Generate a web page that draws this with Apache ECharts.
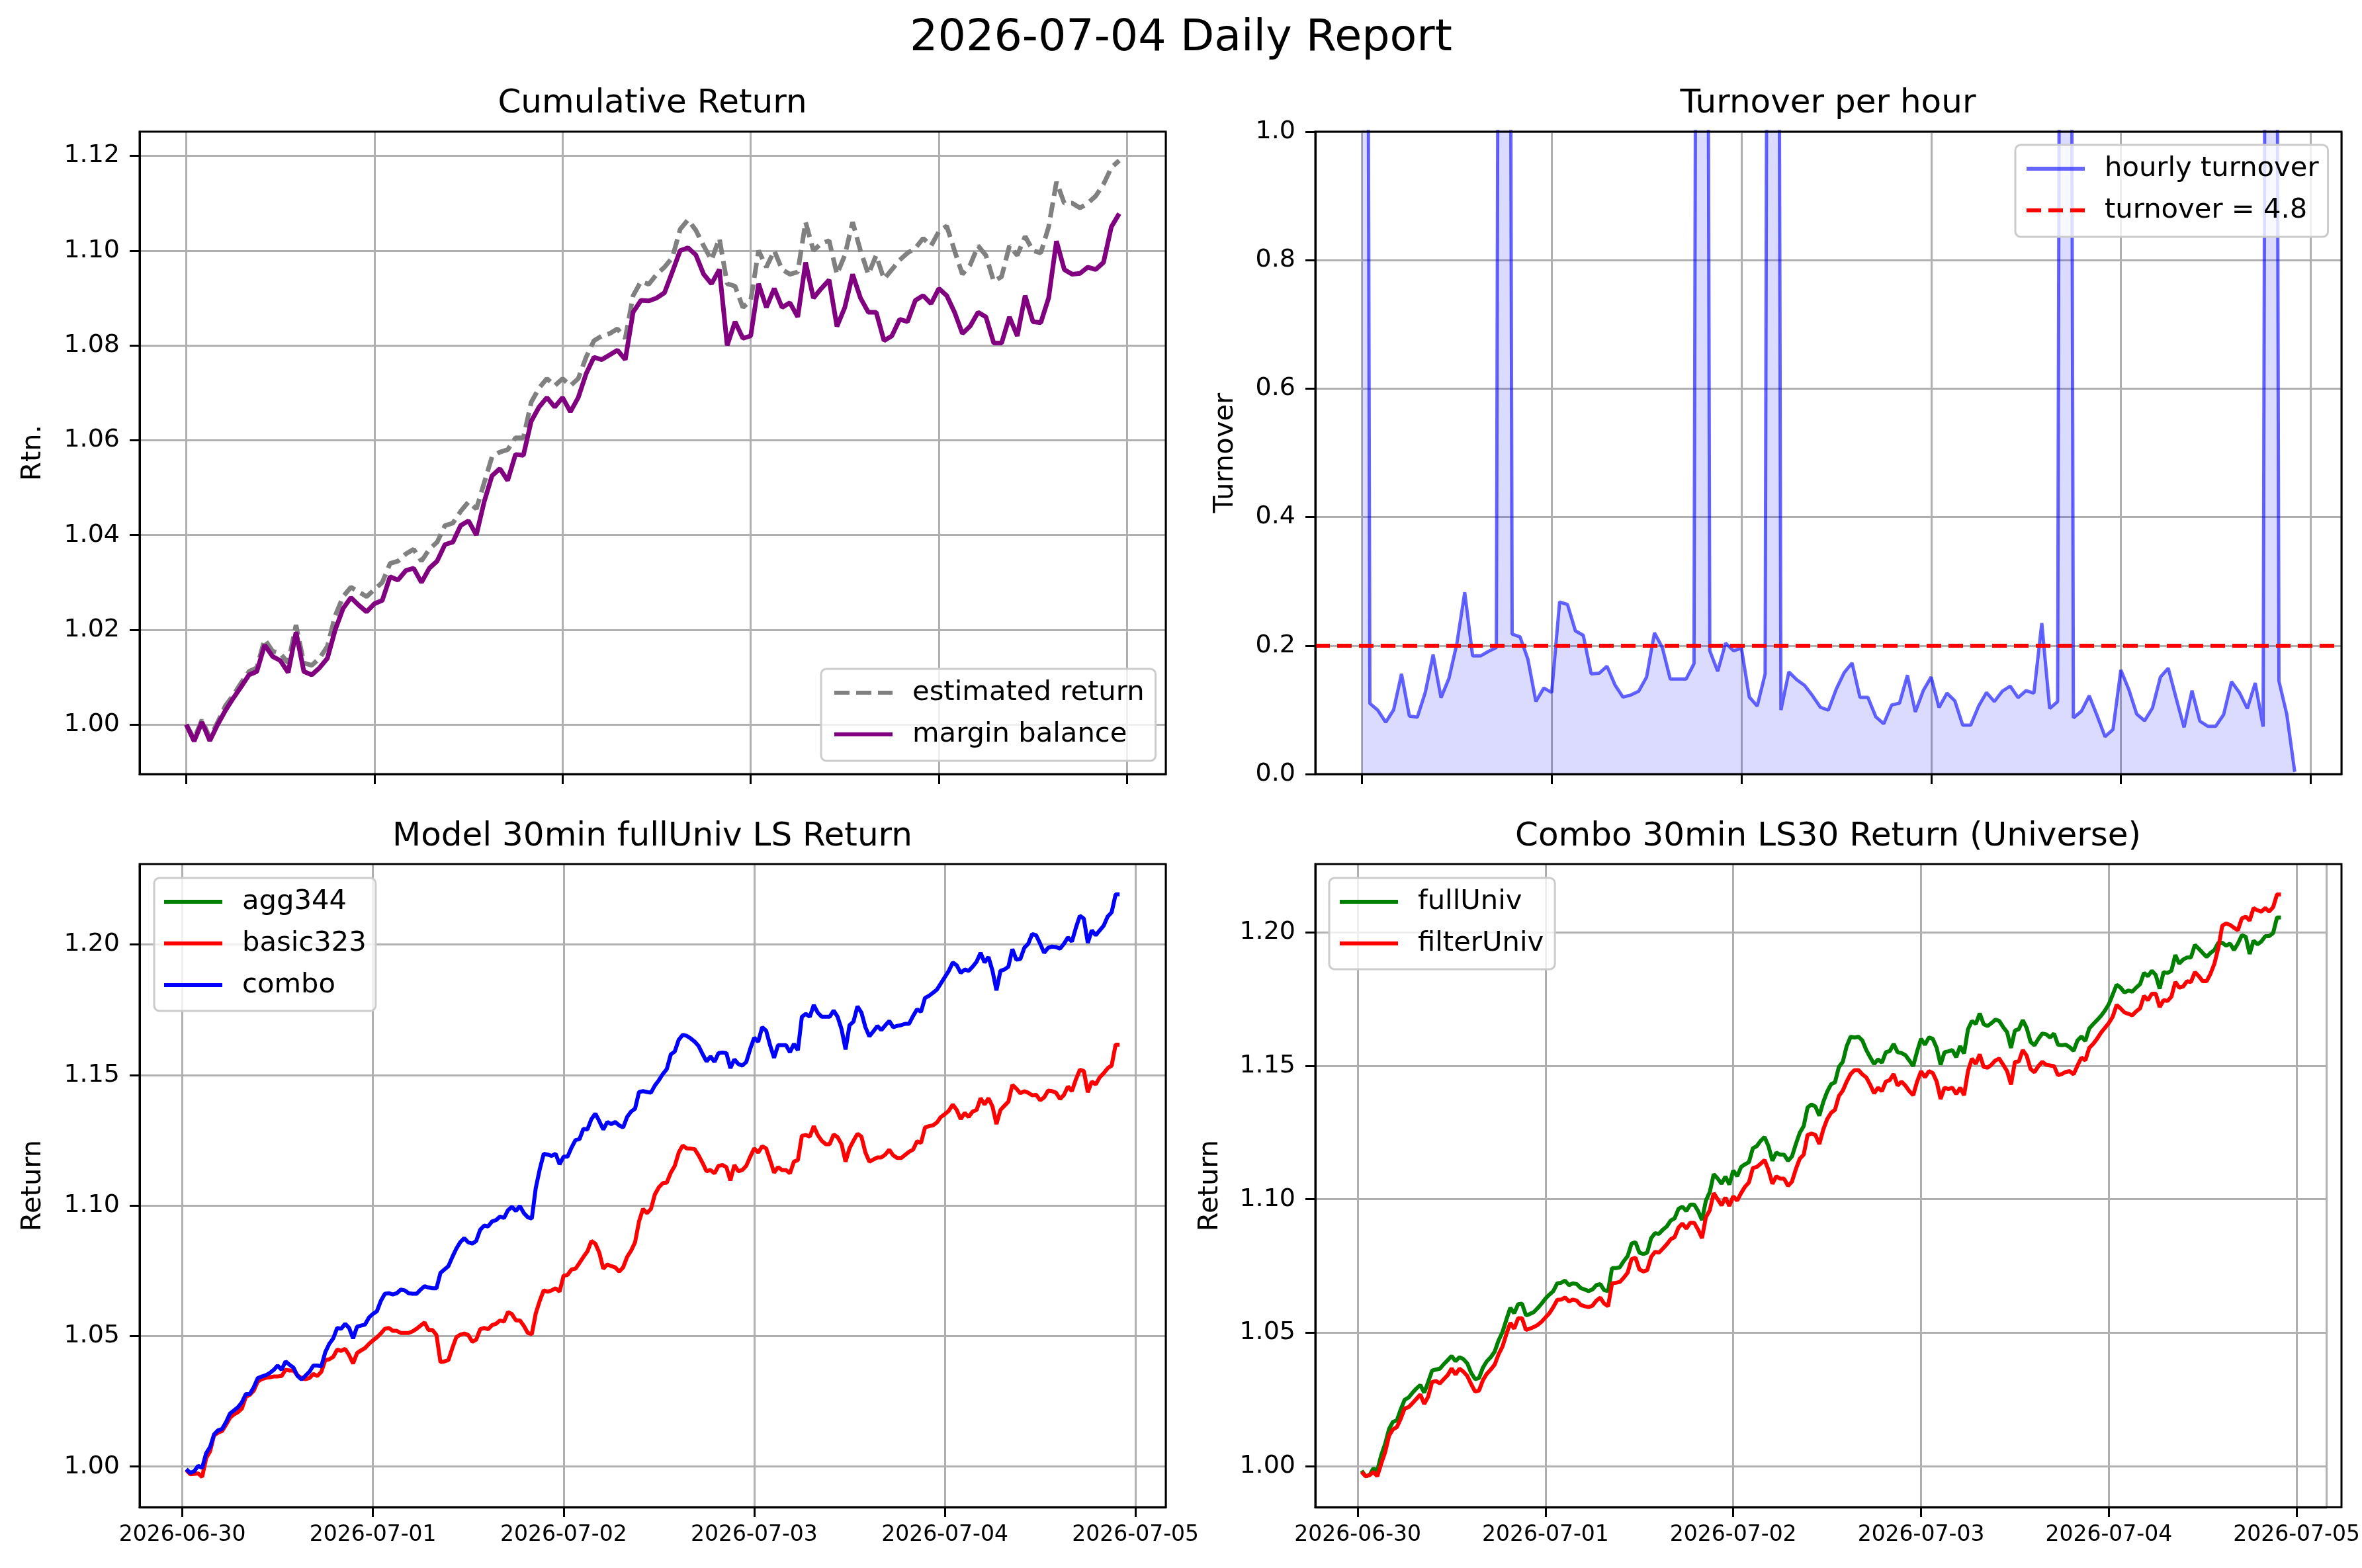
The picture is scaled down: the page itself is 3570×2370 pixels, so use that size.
<!DOCTYPE html>
<html>
<head>
    <meta charset="UTF-8">
    <title>2026-07-04 Daily Report</title>
    <script src="https://cdn.jsdelivr.net/npm/echarts@6/dist/echarts.min.js"></script>
    <style>
        * { padding: 0; margin: 0; }
        html, body { width: 3570px; height: 2370px; background: #fff; overflow: hidden; }
        #report { width: 3570px; height: 2370px; }
    </style>
</head>
<body>
    <div id="report"></div>
</body>
<script>
    var HOUR = 3600 * 1000;
    var DAY = 24 * HOUR;
    var T0 = Date.UTC(2026, 5, 30);   // 2026-06-30 00:00

    // tick values
    var dayTicks = ['2026-06-30', '2026-07-01', '2026-07-02', '2026-07-03', '2026-07-04', '2026-07-05'];
    var retTicks = [1.00, 1.02, 1.04, 1.06, 1.08, 1.10, 1.12];
    var turnTicks = [0.0, 0.2, 0.4, 0.6, 0.8, 1.0];
    var lsTicks = [1.00, 1.05, 1.10, 1.15, 1.20];

    // cumulative return, hourly from 06-30 00:00
    var estReturn = [
        1.0000, 0.9970, 1.0010, 0.9972, 1.0005, 1.0040, 1.0062, 1.0088, 1.0112, 1.0120,
        1.0180, 1.0155, 1.0150, 1.0130, 1.0210, 1.0130, 1.0125, 1.0140, 1.0165, 1.0230,
        1.0270, 1.0290, 1.0280, 1.0270, 1.0285, 1.0300, 1.0340, 1.0345, 1.0360, 1.0370,
        1.0345, 1.0370, 1.0385, 1.0420, 1.0425, 1.0450, 1.0470, 1.0455, 1.0510, 1.0565,
        1.0575, 1.0580, 1.0605, 1.0605, 1.0680, 1.0710, 1.0730, 1.0715, 1.0730, 1.0715,
        1.0730, 1.0775, 1.0810, 1.0820, 1.0825, 1.0835, 1.0815, 1.0905, 1.0935, 1.0929,
        1.0950, 1.0965, 1.0985, 1.1045, 1.1065, 1.1043, 1.1010, 1.0980, 1.1026, 1.0930,
        1.0925, 1.0880, 1.0895, 1.1000, 1.0965, 1.1000, 1.0960, 1.0950, 1.0955, 1.1060,
        1.1000, 1.1015, 1.1021, 1.0950, 1.0990, 1.1060, 1.1000, 1.0950, 1.0990, 1.0940,
        1.0960, 1.0980, 1.0995, 1.1005, 1.1026, 1.1010, 1.1040, 1.1052, 1.1000, 1.0950,
        1.0970, 1.1010, 1.0990, 1.0935, 1.0945, 1.1010, 1.0990, 1.1030, 1.1000, 1.0995,
        1.1050, 1.1145, 1.1100, 1.1100, 1.1090, 1.1100, 1.1115, 1.1140, 1.1175, 1.1190
    ];
    var marginBal = [
        1.0000, 0.9965, 1.0005, 0.9966, 1.0000, 1.0030, 1.0056, 1.0080, 1.0105, 1.0112,
        1.0168, 1.0144, 1.0135, 1.0110, 1.0195, 1.0112, 1.0105, 1.0120, 1.0140, 1.0200,
        1.0245, 1.0268, 1.0252, 1.0238, 1.0255, 1.0262, 1.0312, 1.0305, 1.0325, 1.0330,
        1.0300, 1.0330, 1.0345, 1.0380, 1.0385, 1.0420, 1.0430, 1.0400, 1.0470, 1.0525,
        1.0540, 1.0515, 1.0570, 1.0568, 1.0640, 1.0670, 1.0690, 1.0670, 1.0690, 1.0660,
        1.0690, 1.0740, 1.0775, 1.0770, 1.0780, 1.0790, 1.0770, 1.0870, 1.0895, 1.0894,
        1.0900, 1.0911, 1.0955, 1.1000, 1.1006, 1.0991, 1.0950, 1.0930, 1.0960, 1.0800,
        1.0850, 1.0815, 1.0820, 1.0930, 1.0880, 1.0920, 1.0880, 1.0890, 1.0860, 1.0975,
        1.0900, 1.0920, 1.0938, 1.0840, 1.0880, 1.0950, 1.0900, 1.0870, 1.0870, 1.0810,
        1.0820, 1.0855, 1.0850, 1.0895, 1.0905, 1.0888, 1.0920, 1.0905, 1.0870, 1.0825,
        1.0841, 1.0870, 1.0860, 1.0805, 1.0805, 1.0860, 1.0820, 1.0905, 1.0850, 1.0848,
        1.0900, 1.1020, 1.0960, 1.0950, 1.0952, 1.0965, 1.0960, 1.0975, 1.1050, 1.1078
    ];

    // hourly turnover from 06-30 00:00 (the spikes run far past the top of the axis)
    var turnover = [
        5.0, 0.110, 0.0996, 0.0807, 0.100, 0.156, 0.0903, 0.0886, 0.127, 0.186,
        0.119, 0.149, 0.203, 0.283, 0.184, 0.184, 0.191, 0.197, 5.0, 0.218,
        0.2135, 0.1785, 0.113, 0.134, 0.127, 0.268, 0.264, 0.223, 0.216, 0.156,
        0.157, 0.168, 0.139, 0.120, 0.123, 0.129, 0.151, 0.220, 0.197, 0.148,
        0.148, 0.148, 0.172, 5.0, 0.192, 0.160, 0.204, 0.192, 0.196, 0.120,
        0.106, 0.156, 5.0, 0.0996, 0.159, 0.147, 0.138, 0.122, 0.104, 0.0996,
        0.1325, 0.158, 0.173, 0.1195, 0.1195, 0.0893, 0.0783, 0.1075, 0.1105, 0.154,
        0.0968, 0.130, 0.151, 0.1037, 0.126, 0.114, 0.0762, 0.0762, 0.1057, 0.127,
        0.113, 0.129, 0.137, 0.119, 0.130, 0.126, 0.235, 0.102, 0.113, 5.0,
        0.0875, 0.0978, 0.122, 0.091, 0.0584, 0.0693, 0.162, 0.132, 0.0937, 0.083,
        0.103, 0.151, 0.165, 0.118, 0.0728, 0.130, 0.0824, 0.0745, 0.0745, 0.0927,
        0.144, 0.127, 0.102, 0.142, 0.0738, 5.0, 0.145, 0.0927, 0.0034
    ];
    var turnoverLevel = 0.2;

    // 30min LS returns from 06-30 00:30
    var agg344 = [];
    var basic323 = [
        0.9987, 0.9971, 0.9972, 0.9974, 0.9960, 1.0032, 1.0059, 1.0120, 1.0130, 1.0136,
        1.0160, 1.0187, 1.0200, 1.0208, 1.0222, 1.0267, 1.0275, 1.0291, 1.0326, 1.0335,
        1.0340, 1.0342, 1.0345, 1.0345, 1.0347, 1.0371, 1.0368, 1.0368, 1.0350, 1.0339,
        1.0335, 1.0339, 1.0355, 1.0347, 1.0363, 1.0408, 1.0411, 1.0420, 1.0448, 1.0443,
        1.0451, 1.0427, 1.0395, 1.0435, 1.0445, 1.0454, 1.0470, 1.0483, 1.0495, 1.0510,
        1.0528, 1.0531, 1.0520, 1.0520, 1.0512, 1.0512, 1.0512, 1.0518, 1.0528, 1.0540,
        1.0552, 1.0523, 1.0523, 1.0504, 1.0400, 1.0403, 1.0408, 1.0454, 1.0496, 1.0505,
        1.0510, 1.0504, 1.0478, 1.0486, 1.0526, 1.0531, 1.0526, 1.0542, 1.0547, 1.0560,
        1.0555, 1.0592, 1.0584, 1.0560, 1.0560, 1.0539, 1.0512, 1.0507, 1.0587, 1.0635,
        1.0675, 1.0670, 1.0675, 1.0683, 1.0670, 1.0731, 1.0734, 1.0755, 1.0758, 1.0780,
        1.0803, 1.0824, 1.0864, 1.0854, 1.0819, 1.0758, 1.0774, 1.0768, 1.0763, 1.0747,
        1.0763, 1.0803, 1.0827, 1.0859, 1.0939, 1.0987, 1.0971, 1.0987, 1.1043, 1.1070,
        1.1086, 1.1088, 1.1126, 1.1152, 1.1203, 1.1230, 1.1219, 1.1218, 1.1216, 1.1192,
        1.1163, 1.1131, 1.1136, 1.1123, 1.1152, 1.1155, 1.1147, 1.1096, 1.1155, 1.1131,
        1.1136, 1.1152, 1.1187, 1.1219, 1.1203, 1.1227, 1.1219, 1.1174, 1.1126, 1.1147,
        1.1136, 1.1136, 1.1123, 1.1168, 1.1174, 1.1267, 1.1270, 1.1264, 1.1304, 1.1270,
        1.1248, 1.1235, 1.1235, 1.1272, 1.1262, 1.1235, 1.1168, 1.1219, 1.1248, 1.1275,
        1.1264, 1.1203, 1.1168, 1.1176, 1.1184, 1.1184, 1.1195, 1.1214, 1.1192, 1.1182,
        1.1182, 1.1194, 1.1206, 1.1214, 1.1246, 1.1240, 1.1299, 1.1304, 1.1307, 1.1318,
        1.1339, 1.1350, 1.1363, 1.1387, 1.1366, 1.1331, 1.1355, 1.1339, 1.1360, 1.1366,
        1.1411, 1.1387, 1.1411, 1.1379, 1.1312, 1.1366, 1.1382, 1.1398, 1.1462, 1.1448,
        1.1430, 1.1438, 1.1432, 1.1422, 1.1424, 1.1403, 1.1414, 1.1440, 1.1438, 1.1432,
        1.1408, 1.1424, 1.1456, 1.1438, 1.1483, 1.1520, 1.1515, 1.1434, 1.1475, 1.1464,
        1.1491, 1.1507, 1.1526, 1.1536, 1.1616, 1.1616
    ];
    var combo = [
        0.9990, 0.9976, 0.9982, 1.0003, 0.9995, 1.0051, 1.0075, 1.0123, 1.0139, 1.0144,
        1.0170, 1.0203, 1.0215, 1.0227, 1.0246, 1.0278, 1.0278, 1.0304, 1.0339, 1.0345,
        1.0350, 1.0358, 1.0370, 1.0387, 1.0371, 1.0403, 1.0390, 1.0379, 1.0347, 1.0334,
        1.0348, 1.0363, 1.0387, 1.0387, 1.0384, 1.0438, 1.0470, 1.0491, 1.0531, 1.0528,
        1.0547, 1.0531, 1.0491, 1.0536, 1.0540, 1.0544, 1.0571, 1.0585, 1.0595, 1.0635,
        1.0662, 1.0664, 1.0659, 1.0664, 1.0678, 1.0675, 1.0664, 1.0662, 1.0662, 1.0678,
        1.0691, 1.0686, 1.0683, 1.0683, 1.0742, 1.0755, 1.0768, 1.0803, 1.0835, 1.0860,
        1.0875, 1.0859, 1.0854, 1.0864, 1.0907, 1.0923, 1.0920, 1.0939, 1.0944, 1.0958,
        1.0952, 1.0982, 1.0995, 1.0979, 1.0998, 1.0971, 1.0955, 1.0950, 1.1067, 1.1139,
        1.1198, 1.1195, 1.1190, 1.1198, 1.1158, 1.1187, 1.1187, 1.1222, 1.1251, 1.1254,
        1.1294, 1.1291, 1.1331, 1.1352, 1.1323, 1.1291, 1.1320, 1.1312, 1.1320, 1.1307,
        1.1299, 1.1339, 1.1360, 1.1371, 1.1435, 1.1438, 1.1435, 1.1432, 1.1460, 1.1480,
        1.1504, 1.1523, 1.1579, 1.1590, 1.1635, 1.1654, 1.1650, 1.1640, 1.1628, 1.1611,
        1.1580, 1.1552, 1.1571, 1.1550, 1.1584, 1.1586, 1.1584, 1.1526, 1.1560, 1.1542,
        1.1536, 1.1550, 1.1600, 1.1643, 1.1627, 1.1683, 1.1670, 1.1614, 1.1566, 1.1614,
        1.1614, 1.1614, 1.1587, 1.1619, 1.1595, 1.1723, 1.1734, 1.1723, 1.1768, 1.1739,
        1.1723, 1.1723, 1.1723, 1.1747, 1.1723, 1.1675, 1.1598, 1.1691, 1.1704, 1.1763,
        1.1739, 1.1683, 1.1648, 1.1667, 1.1688, 1.1672, 1.1690, 1.1707, 1.1683, 1.1688,
        1.1691, 1.1696, 1.1696, 1.1726, 1.1752, 1.1742, 1.1795, 1.1803, 1.1815, 1.1827,
        1.1851, 1.1875, 1.1899, 1.1931, 1.1920, 1.1891, 1.1904, 1.1899, 1.1915, 1.1934,
        1.1968, 1.1931, 1.1952, 1.1899, 1.1824, 1.1899, 1.1904, 1.1915, 1.1982, 1.1942,
        1.1944, 1.1987, 1.2003, 1.2040, 1.2035, 1.2003, 1.1968, 1.1987, 1.1992, 1.1990,
        1.1984, 1.2003, 1.2027, 1.2011, 1.2064, 1.2110, 1.2099, 1.2006, 1.2054, 1.2035,
        1.2054, 1.2072, 1.2107, 1.2123, 1.2192, 1.2192
    ];
    var fullUniv = [
        0.9983, 0.9962, 0.9966, 0.9991, 0.9983, 1.0041, 1.0083, 1.0139, 1.0166, 1.0171,
        1.0213, 1.0249, 1.0257, 1.0275, 1.0291, 1.0304, 1.0275, 1.0315, 1.0358, 1.0362,
        1.0365, 1.0382, 1.0397, 1.0413, 1.0393, 1.0408, 1.0401, 1.0385, 1.0349, 1.0326,
        1.0330, 1.0369, 1.0393, 1.0408, 1.0429, 1.0471, 1.0502, 1.0549, 1.0593, 1.0573,
        1.0607, 1.0609, 1.0565, 1.0570, 1.0577, 1.0592, 1.0609, 1.0628, 1.0643, 1.0656,
        1.0685, 1.0687, 1.0695, 1.0678, 1.0685, 1.0682, 1.0667, 1.0662, 1.0656, 1.0662,
        1.0678, 1.0682, 1.0659, 1.0656, 1.0742, 1.0742, 1.0745, 1.0768, 1.0787, 1.0834,
        1.0839, 1.0800, 1.0795, 1.0800, 1.0854, 1.0873, 1.0870, 1.0886, 1.0898, 1.0920,
        1.0928, 1.0964, 1.0972, 1.0956, 1.0980, 1.0980, 1.0956, 1.0922, 1.0995, 1.1027,
        1.1094, 1.1078, 1.1058, 1.1085, 1.1055, 1.1108, 1.1086, 1.1121, 1.1131, 1.1139,
        1.1191, 1.1199, 1.1219, 1.1233, 1.1199, 1.1144, 1.1175, 1.1167, 1.1167, 1.1144,
        1.1160, 1.1207, 1.1249, 1.1274, 1.1344, 1.1355, 1.1347, 1.1313, 1.1364, 1.1403,
        1.1431, 1.1438, 1.1496, 1.1515, 1.1574, 1.1609, 1.1606, 1.1609, 1.1595, 1.1559,
        1.1532, 1.1507, 1.1524, 1.1512, 1.1551, 1.1555, 1.1582, 1.1551, 1.1548, 1.1540,
        1.1520, 1.1499, 1.1554, 1.1601, 1.1579, 1.1606, 1.1601, 1.1567, 1.1504, 1.1551,
        1.1554, 1.1559, 1.1532, 1.1574, 1.1546, 1.1637, 1.1668, 1.1657, 1.1696, 1.1656,
        1.1649, 1.1660, 1.1673, 1.1668, 1.1645, 1.1626, 1.1567, 1.1632, 1.1637, 1.1671,
        1.1642, 1.1590, 1.1577, 1.1601, 1.1621, 1.1618, 1.1606, 1.1621, 1.1579, 1.1577,
        1.1579, 1.1570, 1.1556, 1.1595, 1.1610, 1.1593, 1.1640, 1.1656, 1.1671, 1.1687,
        1.1707, 1.1731, 1.1767, 1.1804, 1.1793, 1.1775, 1.1782, 1.1778, 1.1793, 1.1806,
        1.1848, 1.1836, 1.1856, 1.1840, 1.1789, 1.1851, 1.1848, 1.1856, 1.1915, 1.1883,
        1.1898, 1.1906, 1.1906, 1.1953, 1.1939, 1.1923, 1.1908, 1.1923, 1.1934, 1.1961,
        1.1961, 1.1950, 1.1958, 1.1934, 1.1958, 1.1989, 1.1984, 1.1919, 1.1969, 1.1955,
        1.1966, 1.1986, 1.1986, 1.1997, 1.2056, 1.2056
    ];
    var filterUniv = [
        0.9978, 0.9962, 0.9966, 0.9978, 0.9962, 1.0009, 1.0052, 1.0114, 1.0138, 1.0146,
        1.0178, 1.0216, 1.0221, 1.0236, 1.0252, 1.0268, 1.0233, 1.0260, 1.0315, 1.0319,
        1.0310, 1.0326, 1.0341, 1.0366, 1.0343, 1.0365, 1.0354, 1.0338, 1.0307, 1.0279,
        1.0283, 1.0322, 1.0346, 1.0362, 1.0380, 1.0419, 1.0448, 1.0495, 1.0537, 1.0515,
        1.0554, 1.0554, 1.0510, 1.0515, 1.0521, 1.0529, 1.0541, 1.0557, 1.0573, 1.0596,
        1.0623, 1.0624, 1.0632, 1.0617, 1.0624, 1.0620, 1.0604, 1.0599, 1.0596, 1.0601,
        1.0620, 1.0631, 1.0609, 1.0599, 1.0685, 1.0687, 1.0690, 1.0706, 1.0725, 1.0776,
        1.0781, 1.0737, 1.0729, 1.0734, 1.0784, 1.0803, 1.0800, 1.0815, 1.0831, 1.0850,
        1.0858, 1.0894, 1.0909, 1.0890, 1.0912, 1.0912, 1.0886, 1.0854, 1.0933, 1.0959,
        1.1023, 1.1000, 1.0977, 1.1006, 1.0975, 1.1011, 1.0995, 1.1023, 1.1047, 1.1063,
        1.1117, 1.1121, 1.1133, 1.1147, 1.1110, 1.1058, 1.1086, 1.1077, 1.1077, 1.1050,
        1.1066, 1.1113, 1.1152, 1.1167, 1.1241, 1.1246, 1.1241, 1.1207, 1.1261, 1.1300,
        1.1324, 1.1335, 1.1387, 1.1407, 1.1441, 1.1469, 1.1484, 1.1484, 1.1468, 1.1457,
        1.1429, 1.1397, 1.1418, 1.1405, 1.1441, 1.1446, 1.1469, 1.1426, 1.1441, 1.1426,
        1.1405, 1.1390, 1.1441, 1.1480, 1.1457, 1.1480, 1.1473, 1.1441, 1.1376, 1.1418,
        1.1413, 1.1418, 1.1394, 1.1418, 1.1390, 1.1480, 1.1527, 1.1507, 1.1543, 1.1496,
        1.1493, 1.1504, 1.1520, 1.1527, 1.1504, 1.1480, 1.1430, 1.1515, 1.1516, 1.1559,
        1.1538, 1.1488, 1.1476, 1.1499, 1.1515, 1.1504, 1.1501, 1.1499, 1.1465, 1.1469,
        1.1477, 1.1480, 1.1468, 1.1501, 1.1531, 1.1520, 1.1567, 1.1582, 1.1601, 1.1624,
        1.1642, 1.1660, 1.1684, 1.1728, 1.1715, 1.1700, 1.1695, 1.1689, 1.1704, 1.1715,
        1.1762, 1.1746, 1.1770, 1.1770, 1.1720, 1.1746, 1.1743, 1.1759, 1.1814, 1.1793,
        1.1797, 1.1817, 1.1814, 1.1851, 1.1836, 1.1817, 1.1817, 1.1845, 1.1883, 1.1942,
        1.2025, 1.2033, 1.2028, 1.2017, 1.2008, 1.2052, 1.2059, 1.2044, 1.2091, 1.2083,
        1.2078, 1.2091, 1.2078, 1.2094, 1.2142, 1.2142
    ];

    var FONT = 'DejaVu Sans';
    var panels = [
        { left: 211, top: 199, width: 1551, height: 971 },
        { left: 1988, top: 199, width: 1551, height: 971 },
        { left: 211, top: 1306, width: 1551, height: 972 },
        { left: 1988, top: 1306, width: 1551, height: 972 }
    ];
    var xRanges = [[-0.248, 5.206], [-0.246, 5.163], [-0.224, 5.159], [-0.226, 5.158]];   // in days

    var dayValues = dayTicks.map(function (s) { return Date.parse(s + 'T00:00:00Z'); });

    function pad2(n) { return n < 10 ? '0' + n : '' + n; }

    function dayLabel(v) {
        var d = new Date(Math.round(v));
        return d.getUTCFullYear() + '-' + pad2(d.getUTCMonth() + 1) + '-' + pad2(d.getUTCDate());
    }

    function timed(arr, startHour, stepHour) {
        return arr.map(function (v, i) { return [T0 + (startHour + i * stepHour) * HOUR, v]; });
    }

    // value axis (ms) carrying the series, ticks and date labels
    function xAxisFor(idx, withLabels) {
        return {
            type: 'value', gridIndex: idx, position: 'bottom',
            min: T0 + xRanges[idx][0] * DAY, max: T0 + xRanges[idx][1] * DAY,
            axisLine: { show: true, onZero: false, lineStyle: { color: '#000', width: 3 } },
            axisTick: { show: true, customValues: dayValues, length: 15, lineStyle: { color: '#000', width: 3 } },
            axisLabel: { show: withLabels, customValues: dayValues, formatter: dayLabel,
                         color: '#000', fontSize: 33, fontFamily: FONT, margin: 26 },
            splitLine: { show: false }
        };
    }

    // time axis over the same span, only for the daily grid lines
    function gridAxisFor(idx) {
        return {
            type: 'time', gridIndex: idx, position: 'top',
            min: T0 + xRanges[idx][0] * DAY, max: T0 + xRanges[idx][1] * DAY,
            minInterval: DAY, maxInterval: DAY,
            axisLine: { show: false }, axisTick: { show: false }, axisLabel: { show: false },
            splitLine: { show: true, lineStyle: { color: '#b0b0b0', width: 3 } }
        };
    }

    function yAxisFor(idx, min, max, split, ticks, digits, name, gap) {
        return {
            type: 'value', gridIndex: idx, min: min, max: max, splitNumber: split,
            name: name, nameLocation: 'middle', nameGap: gap,
            nameTextStyle: { color: '#000', fontSize: 41.7, fontFamily: FONT },
            axisLine: { show: true, onZero: false, lineStyle: { color: '#000', width: 3 } },
            axisTick: { show: true, customValues: ticks, length: 15, lineStyle: { color: '#000', width: 3 } },
            axisLabel: { customValues: ticks, formatter: function (v) { return v.toFixed(digits); },
                         color: '#000', fontSize: 38, fontFamily: FONT, margin: 30 },
            splitLine: { show: true, lineStyle: { color: '#b0b0b0', width: 3 } }
        };
    }

    function legendFor(names, left, top, padding) {
        return {
            data: names, orient: 'vertical', left: left, top: top, padding: padding,
            itemWidth: 88, itemHeight: 4, itemGap: 13,
            itemStyle: { opacity: 0 },
            lineStyle: { width: 6 },
            backgroundColor: 'rgba(255,255,255,0.8)', borderColor: '#cccccc', borderWidth: 3, borderRadius: 8,
            textStyle: { color: '#000', fontSize: 41.7, fontFamily: FONT, lineHeight: 50, padding: [0, 0, 0, 25] }
        };
    }

    function lineSeries(name, data, xi, color, width, dash) {
        return {
            name: name, type: 'line', xAxisIndex: xi, yAxisIndex: xi, data: data,
            symbol: 'none', showSymbol: false, animation: false,
            lineStyle: { color: color, width: width, type: dash || 'solid' },
            itemStyle: { color: color }
        };
    }

    var titleStyle = { color: '#000', fontSize: 50, fontWeight: 'normal', fontFamily: FONT, lineHeight: 50 };

    var option = {
        useUTC: true,
        animation: false,
        backgroundColor: '#fff',
        title: [
            { text: '2026-07-04 Daily Report', left: 1785, top: 25, textAlign: 'center', padding: 0,
              textStyle: { color: '#000', fontSize: 66.7, fontWeight: 'normal', fontFamily: FONT, lineHeight: 67 } },
            { text: 'Cumulative Return', left: 986, top: 132, textAlign: 'center', padding: 0, textStyle: titleStyle },
            { text: 'Turnover per hour', left: 2763, top: 132, textAlign: 'center', padding: 0, textStyle: titleStyle },
            { text: 'Model 30min fullUniv LS Return', left: 986, top: 1240, textAlign: 'center', padding: 0, textStyle: titleStyle },
            { text: 'Combo 30min LS30 Return (Universe)', left: 2763, top: 1240, textAlign: 'center', padding: 0, textStyle: titleStyle }
        ],
        grid: panels.map(function (p) {
            return { left: p.left, top: p.top, width: p.width, height: p.height, containLabel: false };
        }),
        xAxis: [
            xAxisFor(0, false), xAxisFor(1, false), xAxisFor(2, true), xAxisFor(3, true),
            gridAxisFor(0), gridAxisFor(1), gridAxisFor(2), gridAxisFor(3)
        ],
        yAxis: [
            yAxisFor(0, 0.98957, 1.12509, 7, retTicks, 2, 'Rtn.', 140),
            yAxisFor(1, 0, 1, 5, turnTicks, 1, 'Turnover', 115),
            yAxisFor(2, 0.98447, 1.2308, 5, lsTicks, 2, 'Return', 140),
            yAxisFor(3, 0.98463, 1.2256, 5, lsTicks, 2, 'Return', 138)
        ],
        legend: [
            legendFor(['estimated return', 'margin balance'], 1241, 1011, [11, 17, 15, 17]),
            legendFor(['hourly turnover', 'turnover = 4.8'], 3046, 219, [11, 14, 15, 14]),
            legendFor(['agg344', 'basic323', 'combo'], 233, 1327, [11, 14, 14, 12]),
            legendFor(['fullUniv', 'filterUniv'], 2009, 1327, [11, 17, 14, 13])
        ],
        series: [
            lineSeries('estimated return', timed(estReturn, 0, 1), 0, '#808080', 7, [23, 10]),
            lineSeries('margin balance', timed(marginBal, 0, 1), 0, '#800080', 7),
            (function () {
                var s = lineSeries('hourly turnover', timed(turnover, 0, 1), 1, 'rgba(0,0,255,0.6)', 5);
                s.areaStyle = { color: 'rgba(0,0,255,0.2)', origin: 'start' };
                s.clip = true;
                return s;
            })(),
            (function () {
                var s = lineSeries('turnover = 4.8', [], 1, '#ff0000', 6, [22, 11]);
                s.markLine = {
                    silent: true, symbol: ['none', 'none'], label: { show: false },
                    lineStyle: { color: '#ff0000', width: 6, type: [22, 11] },
                    data: [{ yAxis: turnoverLevel }]
                };
                return s;
            })(),
            lineSeries('agg344', timed(agg344, 0.5, 0.5), 2, '#008000', 6),
            lineSeries('basic323', timed(basic323, 0.5, 0.5), 2, '#ff0000', 6),
            lineSeries('combo', timed(combo, 0.5, 0.5), 2, '#0000ff', 6),
            lineSeries('fullUniv', timed(fullUniv, 0.5, 0.5), 3, '#008000', 6),
            lineSeries('filterUniv', timed(filterUniv, 0.5, 0.5), 3, '#ff0000', 6)
        ],
        graphic: panels.map(function (p) {   // axes frame on top, like the spines
            return {
                type: 'rect', silent: true, z: 100,
                shape: { x: p.left, y: p.top, width: p.width, height: p.height },
                style: { fill: null, stroke: '#000', lineWidth: 3 }
            };
        })
    };

    var chart = echarts.init(document.getElementById('report'), null, { renderer: 'canvas', width: 3570, height: 2370 });
    chart.setOption(option);
</script>
</html>
